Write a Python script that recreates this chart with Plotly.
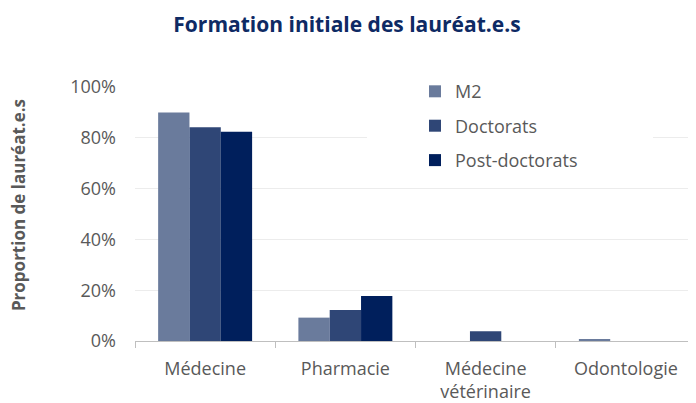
import plotly.graph_objects as go

categories = ["Médecine", "Pharmacie", "Médecine<br>vétérinaire", "Odontologie"]
series_names = ["M2", "Doctorats", "Post-doctorats"]
m2 = [0.90, 0.092, 0.0, 0.008]
doctorats = [0.842, 0.122, 0.038, 0.0]
postdoc = [0.824, 0.177, 0.0, 0.0]
colors = ["#6a7b9c", "#2f4676", "#001f5c"]
tick_vals = [0, 0.2, 0.4, 0.6, 0.8, 1.0]
tick_text = ["0%", "20%", "40%", "60%", "80%", "100%"]

FONT = "Open Sans, Lato, sans-serif"
GREY = "#595959"

fig = go.Figure()
for name, vals, col in zip(series_names, [m2, doctorats, postdoc], colors):
    fig.add_trace(go.Bar(x=categories, y=vals, name=name, marker_color=col,
                         marker_line_width=0, legendgroup=name))

OFF = 8  # page body margin
W, H = 696 - OFF, 403 - OFF
L, R, T, B = 135 - OFF, 0, 87 - OFF, 60
pw = W - L - R
ph = H - T - B

def px_x(x):
    return (x - OFF - L) / pw

def px_y(y):
    return (H - B - (y - OFF)) / ph

fig.update_layout(
    width=W, height=H,
    margin=dict(l=L, r=R, t=T, b=B),
    paper_bgcolor="white", plot_bgcolor="white",
    barmode="group", bargap=0.33, bargroupgap=0,
    font=dict(family=FONT, color=GREY, size=18),
    title=dict(text="<b>Formation initiale des lauréat.e.s</b>",
               x=(347 - OFF) / W, xref="container", xanchor="center",
               y=1 - (25 - OFF) / H, yanchor="middle",
               font=dict(family=FONT, size=21, color="#0e2a64")),
    legend=dict(x=px_x(415), y=px_y(73), xanchor="left", yanchor="top",
                font=dict(size=18, color=GREY), bgcolor="rgba(0,0,0,0)",
                tracegroupgap=8, itemwidth=30),
    showlegend=True,
)
fig.update_xaxes(
    showline=True, linecolor="#bfbfbf", linewidth=1,
    ticks="outside", tickson="boundaries", ticklen=6, tickcolor="#bfbfbf",
    tickfont=dict(size=18, color=GREY), showgrid=False, ticklabelstandoff=11,
)
fig.update_yaxes(
    range=[0, 1], tickvals=tick_vals, ticktext=tick_text,
    showgrid=True, gridcolor="#ececec", gridwidth=1,
    tickfont=dict(size=18, color=GREY), ticklabelstandoff=18,
    zeroline=False, showline=False,
)
# white legend box covering gridlines like the original
fig.add_shape(type="rect", xref="paper", yref="paper",
              x0=px_x(367), x1=px_x(653), y0=px_y(172), y1=px_y(84),
              fillcolor="white", line_width=0, layer="above")
fig.add_annotation(text="<b>Proportion de lauréat.e.s</b>", textangle=-90,
                   xref="paper", yref="paper", x=px_x(18), y=px_y(206),
                   xanchor="center", yanchor="middle", showarrow=False,
                   font=dict(size=17, color=GREY, family=FONT))

fig.write_html("out.html")
